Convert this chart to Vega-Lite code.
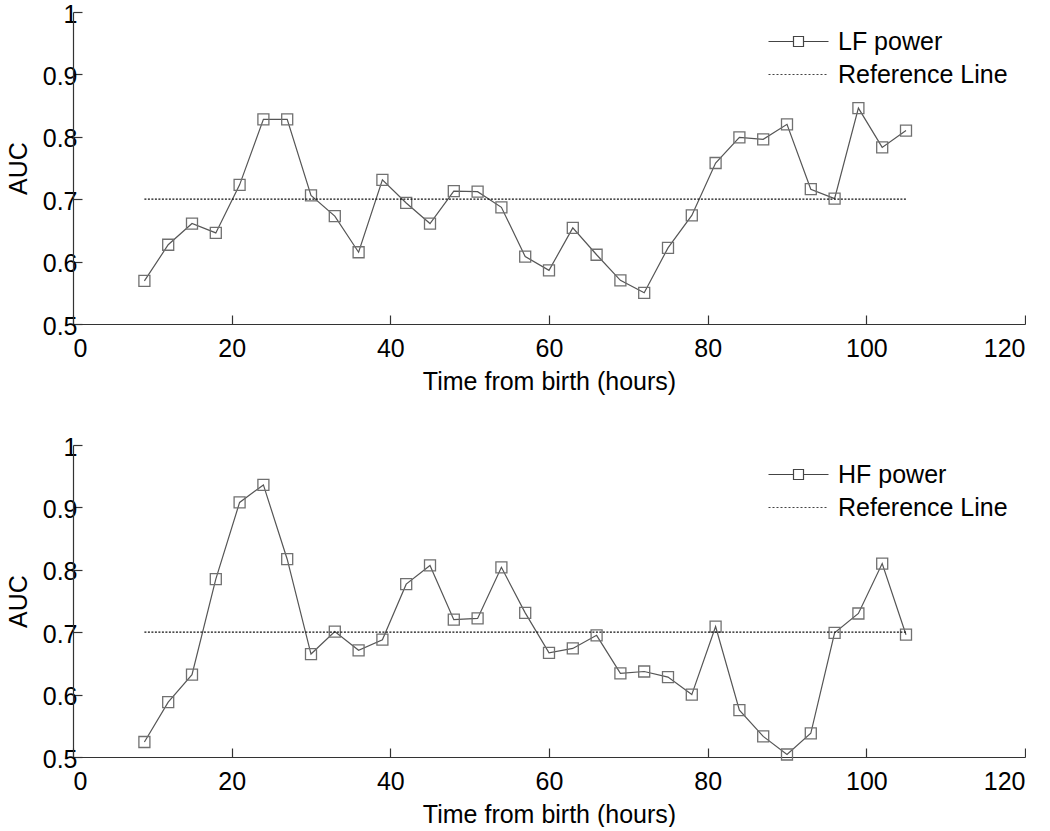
{
  "$schema": "https://vega.github.io/schema/vega-lite/v6.json",
  "padding": {"left": 6, "top": 2, "right": 0, "bottom": 0},
  "background": "white",
  "datasets": {
    "lf": [
      {"hour": 9, "auc": 0.569, "series": "LF power"},
      {"hour": 12, "auc": 0.627, "series": "LF power"},
      {"hour": 15, "auc": 0.661, "series": "LF power"},
      {"hour": 18, "auc": 0.646, "series": "LF power"},
      {"hour": 21, "auc": 0.723, "series": "LF power"},
      {"hour": 24, "auc": 0.828, "series": "LF power"},
      {"hour": 27, "auc": 0.828, "series": "LF power"},
      {"hour": 30, "auc": 0.706, "series": "LF power"},
      {"hour": 33, "auc": 0.673, "series": "LF power"},
      {"hour": 36, "auc": 0.615, "series": "LF power"},
      {"hour": 39, "auc": 0.731, "series": "LF power"},
      {"hour": 42, "auc": 0.694, "series": "LF power"},
      {"hour": 45, "auc": 0.661, "series": "LF power"},
      {"hour": 48, "auc": 0.713, "series": "LF power"},
      {"hour": 51, "auc": 0.712, "series": "LF power"},
      {"hour": 54, "auc": 0.687, "series": "LF power"},
      {"hour": 57, "auc": 0.608, "series": "LF power"},
      {"hour": 60, "auc": 0.586, "series": "LF power"},
      {"hour": 63, "auc": 0.654, "series": "LF power"},
      {"hour": 66, "auc": 0.611, "series": "LF power"},
      {"hour": 69, "auc": 0.570, "series": "LF power"},
      {"hour": 72, "auc": 0.550, "series": "LF power"},
      {"hour": 75, "auc": 0.622, "series": "LF power"},
      {"hour": 78, "auc": 0.674, "series": "LF power"},
      {"hour": 81, "auc": 0.758, "series": "LF power"},
      {"hour": 84, "auc": 0.799, "series": "LF power"},
      {"hour": 87, "auc": 0.796, "series": "LF power"},
      {"hour": 90, "auc": 0.820, "series": "LF power"},
      {"hour": 93, "auc": 0.716, "series": "LF power"},
      {"hour": 96, "auc": 0.701, "series": "LF power"},
      {"hour": 99, "auc": 0.846, "series": "LF power"},
      {"hour": 102, "auc": 0.783, "series": "LF power"},
      {"hour": 105, "auc": 0.810, "series": "LF power"}
    ],
    "hf": [
      {"hour": 9, "auc": 0.524, "series": "HF power"},
      {"hour": 12, "auc": 0.588, "series": "HF power"},
      {"hour": 15, "auc": 0.632, "series": "HF power"},
      {"hour": 18, "auc": 0.785, "series": "HF power"},
      {"hour": 21, "auc": 0.908, "series": "HF power"},
      {"hour": 24, "auc": 0.936, "series": "HF power"},
      {"hour": 27, "auc": 0.817, "series": "HF power"},
      {"hour": 30, "auc": 0.665, "series": "HF power"},
      {"hour": 33, "auc": 0.701, "series": "HF power"},
      {"hour": 36, "auc": 0.671, "series": "HF power"},
      {"hour": 39, "auc": 0.688, "series": "HF power"},
      {"hour": 42, "auc": 0.777, "series": "HF power"},
      {"hour": 45, "auc": 0.807, "series": "HF power"},
      {"hour": 48, "auc": 0.720, "series": "HF power"},
      {"hour": 51, "auc": 0.722, "series": "HF power"},
      {"hour": 54, "auc": 0.804, "series": "HF power"},
      {"hour": 57, "auc": 0.731, "series": "HF power"},
      {"hour": 60, "auc": 0.667, "series": "HF power"},
      {"hour": 63, "auc": 0.674, "series": "HF power"},
      {"hour": 66, "auc": 0.695, "series": "HF power"},
      {"hour": 69, "auc": 0.634, "series": "HF power"},
      {"hour": 72, "auc": 0.637, "series": "HF power"},
      {"hour": 75, "auc": 0.628, "series": "HF power"},
      {"hour": 78, "auc": 0.600, "series": "HF power"},
      {"hour": 81, "auc": 0.709, "series": "HF power"},
      {"hour": 84, "auc": 0.575, "series": "HF power"},
      {"hour": 87, "auc": 0.533, "series": "HF power"},
      {"hour": 90, "auc": 0.504, "series": "HF power"},
      {"hour": 93, "auc": 0.538, "series": "HF power"},
      {"hour": 96, "auc": 0.699, "series": "HF power"},
      {"hour": 99, "auc": 0.730, "series": "HF power"},
      {"hour": 102, "auc": 0.810, "series": "HF power"},
      {"hour": 105, "auc": 0.696, "series": "HF power"}
    ],
    "ref": [
      {"hour": 9, "auc": 0.7, "series": "Reference Line"},
      {"hour": 105, "auc": 0.7, "series": "Reference Line"}
    ]
  },
  "config": {
    "view": {"stroke": null},
    "font": "Liberation Sans",
    "axis": {
      "grid": false,
      "domainColor": "#333",
      "domainWidth": 1.2,
      "tickColor": "#333",
      "tickWidth": 1.2,
      "tickSize": -9,
      "labelFont": "Liberation Sans",
      "labelFontSize": 25,
      "labelColor": "#000",
      "titleFont": "Liberation Sans",
      "titleFontSize": 25,
      "titleFontWeight": "normal",
      "titleColor": "#000"
    },
    "legend": {
      "labelFont": "Liberation Sans",
      "labelFontSize": 25,
      "labelColor": "#000",
      "labelLimit": 400
    }
  },
  "bounds": "flush",
  "spacing": 121,
  "vconcat": [
    {
      "width": 952,
      "height": 312,
      "layer": [
        {
          "data": {"name": "lf"},
          "mark": {"type": "line", "color": "#555", "strokeWidth": 1.2},
          "encoding": {
            "x": {"field": "hour", "type": "quantitative", "scale": {"domain": [0, 120]}, "axis": {"values": [0, 20, 40, 60, 80, 100, 120], "title": "Time from birth (hours)", "labelPadding": 21, "titlePadding": 8}},
            "y": {"field": "auc", "type": "quantitative", "scale": {"domain": [0.5, 1]}, "axis": {"values": [0.5, 0.6, 0.7, 0.8, 0.9, 1], "format": ".1~f", "title": "AUC", "labelPadding": 5, "titlePadding": 11, "labelOffset": 2}}
          }
        },
        {
          "data": {"name": "lf"},
          "mark": {"type": "point", "shape": "square", "size": 121, "filled": false, "color": "#707070", "strokeWidth": 1.3, "opacity": 1},
          "encoding": {
            "x": {"field": "hour", "type": "quantitative"},
            "y": {"field": "auc", "type": "quantitative"}
          }
        },
        {
          "data": {"name": "lf"},
          "mark": {"type": "point", "filled": false, "color": "#666", "strokeWidth": 1.2, "opacity": 0, "size": 100},
          "encoding": {
            "x": {"field": "hour", "type": "quantitative"},
            "y": {"field": "auc", "type": "quantitative"},
            "shape": {
              "field": "series", "type": "nominal",
              "scale": {"domain": ["LF power", "Reference Line"], "range": ["M-6,0H-1M1,0H6M-1,-1H1V1H-1Z", "M-6,0h0.4M-5.2,0h0.4M-4.4,0h0.4M-3.6,0h0.4M-2.8,0h0.4M-2,0h0.4M-1.2,0h0.4M-0.4,0h0.4M0.4,0h0.4M1.2,0h0.4M2,0h0.4M2.8,0h0.4M3.6,0h0.4M4.4,0h0.4M5.2,0h0.4"]},
              "legend": {
                "title": null, "orient": "top-right", "offset": 17,
                "symbolSize": 100, "symbolStrokeWidth": 1.2, "symbolOpacity": 1,
                "symbolStrokeColor": "#444", "symbolFillColor": "transparent",
                "labelOffset": 27, "rowPadding": 7, "padding": 0
              }
            }
          }
        },
        {
          "data": {"name": "ref"},
          "mark": {"type": "line", "color": "#111", "strokeWidth": 1.2, "strokeDash": [2, 1.5]},
          "encoding": {
            "x": {"field": "hour", "type": "quantitative"},
            "y": {"field": "auc", "type": "quantitative"}
          }
        }
      ]
    },
    {
      "width": 952,
      "height": 312,
      "layer": [
        {
          "data": {"name": "hf"},
          "mark": {"type": "line", "color": "#555", "strokeWidth": 1.2},
          "encoding": {
            "x": {"field": "hour", "type": "quantitative", "scale": {"domain": [0, 120]}, "axis": {"values": [0, 20, 40, 60, 80, 100, 120], "title": "Time from birth (hours)", "labelPadding": 21, "titlePadding": 8}},
            "y": {"field": "auc", "type": "quantitative", "scale": {"domain": [0.5, 1]}, "axis": {"values": [0.5, 0.6, 0.7, 0.8, 0.9, 1], "format": ".1~f", "title": "AUC", "labelPadding": 5, "titlePadding": 11, "labelOffset": 2}}
          }
        },
        {
          "data": {"name": "hf"},
          "mark": {"type": "point", "shape": "square", "size": 121, "filled": false, "color": "#707070", "strokeWidth": 1.3, "opacity": 1},
          "encoding": {
            "x": {"field": "hour", "type": "quantitative"},
            "y": {"field": "auc", "type": "quantitative"}
          }
        },
        {
          "data": {"name": "hf"},
          "mark": {"type": "point", "filled": false, "color": "#666", "strokeWidth": 1.2, "opacity": 0, "size": 100},
          "encoding": {
            "x": {"field": "hour", "type": "quantitative"},
            "y": {"field": "auc", "type": "quantitative"},
            "shape": {
              "field": "series", "type": "nominal",
              "scale": {"domain": ["HF power", "Reference Line"], "range": ["M-6,0H-1M1,0H6M-1,-1H1V1H-1Z", "M-6,0h0.4M-5.2,0h0.4M-4.4,0h0.4M-3.6,0h0.4M-2.8,0h0.4M-2,0h0.4M-1.2,0h0.4M-0.4,0h0.4M0.4,0h0.4M1.2,0h0.4M2,0h0.4M2.8,0h0.4M3.6,0h0.4M4.4,0h0.4M5.2,0h0.4"]},
              "legend": {
                "title": null, "orient": "top-right", "offset": 17,
                "symbolSize": 100, "symbolStrokeWidth": 1.2, "symbolOpacity": 1,
                "symbolStrokeColor": "#444", "symbolFillColor": "transparent",
                "labelOffset": 27, "rowPadding": 7, "padding": 0
              }
            }
          }
        },
        {
          "data": {"name": "ref"},
          "mark": {"type": "line", "color": "#111", "strokeWidth": 1.2, "strokeDash": [2, 1.5]},
          "encoding": {
            "x": {"field": "hour", "type": "quantitative"},
            "y": {"field": "auc", "type": "quantitative"}
          }
        }
      ]
    }
  ],
  "resolve": {"scale": {"shape": "independent"}, "legend": {"shape": "independent"}}
}
